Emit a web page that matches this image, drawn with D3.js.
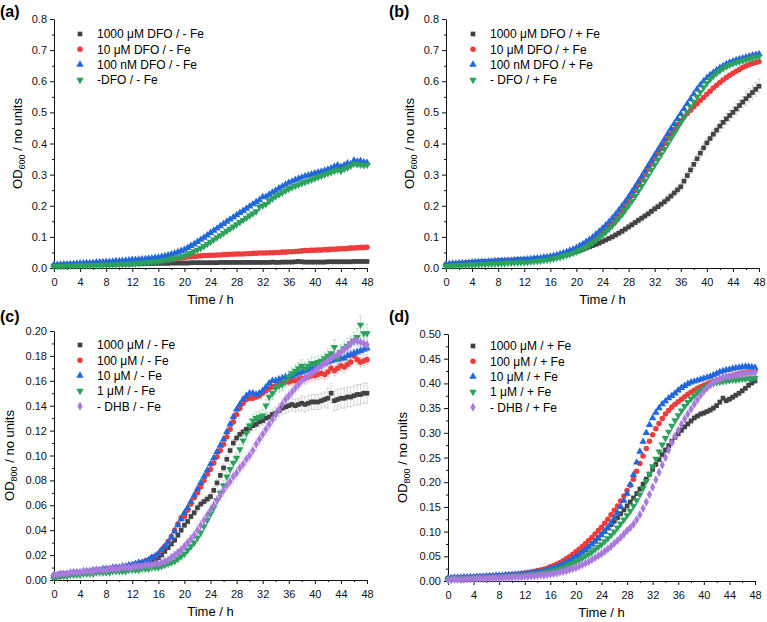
<!DOCTYPE html>
<html><head><meta charset="utf-8">
<script src="https://cdn.jsdelivr.net/npm/d3@7"></script>
<style>body{margin:0;background:#fff}svg{display:block}text{font-family:"Liberation Sans",Arial,sans-serif}</style>
</head><body><svg id="c" width="767" height="622"></svg>
<script>
// sampling times (h)
const times = d3.range(0, 97).map(i => i * 0.5);
const xTicks = [0,4,8,12,16,20,24,28,32,36,40,44,48];

// ---------- Panel (a): DFO / - Fe ----------
const a_1000 = [.008,.008,.009,.009,.009,.010,.010,.010, .010,.011,.011,.011,.011,.012,.012,.012, .012,.012,.012,.013,.013,.013,.013,.013, .013,.014,.014,.014,.014,.014,.014,.015, .015,.015,.015,.015,.016,.016,.016,.016, .016,.016,.017,.017,.017,.017,.017,.017, .017,.017,.017,.018,.018,.018,.018,.018, .018,.018,.018,.018,.018,.018,.018,.018, .018,.018,.018,.019,.018,.018,.019,.019, .019,.019,.020,.021,.020,.019,.019,.019, .019,.019,.019,.019,.020,.020,.020,.020, .020,.020,.020,.020,.021,.021,.021,.021, .021];
const a_10 = [.008,.008,.009,.010,.010,.011,.011,.012, .012,.013,.013,.014,.014,.015,.015,.016, .016,.017,.017,.018,.018,.019,.019,.020, .020,.021,.021,.022,.022,.023,.023,.024, .024,.025,.026,.027,.028,.029,.031,.032, .034,.035,.036,.037,.038,.039,.040,.040, .041,.041,.042,.042,.043,.043,.044,.044, .045,.045,.045,.046,.046,.047,.047,.048, .048,.048,.049,.049,.050,.050,.051,.051, .052,.052,.053,.054,.055,.056,.056,.057, .057,.058,.058,.059,.059,.060,.060,.061, .062,.062,.063,.064,.064,.065,.066,.066, .067];
const a_100n = [.010,.010,.011,.012,.012,.013,.013,.014, .015,.015,.016,.016,.017,.018,.018,.019, .020,.020,.021,.022,.022,.023,.024,.025, .026,.026,.027,.028,.029,.030,.031,.033, .034,.036,.038,.041,.044,.047,.051,.055, .059,.065,.071,.077,.084,.091,.098,.105, .113,.120,.127,.135,.142,.149,.156,.163, .170,.177,.184,.191,.198,.205,.212,.218, .228,.229,.236,.243,.249,.256,.262,.268, .274,.278,.283,.287,.291,.295,.298,.301, .304,.307,.310,.313,.316,.320,.326,.330, .325,.330,.336,.334,.345,.342,.344,.340, .338];
const a_none = [.005,.006,.006,.006,.007,.007,.007,.007, .008,.008,.008,.008,.009,.009,.009,.010, .010,.010,.011,.011,.012,.012,.013,.013, .014,.014,.015,.016,.017,.018,.019,.020, .021,.023,.025,.027,.029,.031,.034,.037, .040,.044,.048,.053,.058,.064,.070,.077, .084,.091,.098,.105,.112,.119,.126,.133, .140,.147,.154,.161,.168,.175,.182,.196, .200,.205,.215,.223,.230,.236,.242,.248, .254,.259,.264,.268,.272,.276,.280,.284, .288,.292,.296,.300,.304,.308,.312,.315, .312,.318,.322,.328,.335,.333,.332,.330, .331];

// ---------- Panel (b): DFO / + Fe ----------
const b_1000 = [.010,.011,.012,.013,.014,.015,.016,.017, .018,.019,.019,.020,.021,.021,.022,.022, .023,.024,.024,.025,.025,.026,.026,.027, .027,.028,.028,.029,.030,.031,.032,.033, .034,.036,.038,.040,.042,.044,.047,.050, .053,.056,.060,.064,.068,.072,.076,.080, .085,.090,.095,.100,.106,.112,.118,.125, .132,.139,.146,.153,.160,.167,.174,.182, .190,.197,.205,.213,.222,.231,.241,.251, .261,.279,.297,.315,.333,.351,.369,.386, .402,.416,.430,.443,.456,.468,.479,.490, .500,.511,.522,.533,.544,.554,.564,.574, .584];
const b_10 = [.010,.011,.012,.013,.013,.014,.015,.016, .016,.017,.018,.018,.019,.020,.020,.021, .021,.022,.022,.023,.023,.024,.025,.025, .026,.026,.027,.028,.029,.030,.031,.033, .034,.036,.038,.041,.044,.047,.051,.055, .060,.065,.071,.077,.084,.091,.099,.107, .115,.124,.134,.145,.157,.170,.184,.199, .215,.232,.249,.266,.283,.300,.317,.334, .351,.368,.384,.400,.416,.431,.446,.460, .473,.485,.496,.507,.518,.528,.538,.548, .558,.568,.578,.587,.596,.604,.612,.619, .626,.632,.638,.644,.649,.653,.657,.660, .663];
const b_100n = [.012,.013,.014,.014,.015,.016,.016,.017, .018,.018,.019,.020,.020,.021,.021,.022, .022,.023,.023,.024,.024,.025,.026,.026, .027,.028,.029,.030,.031,.032,.034,.035, .037,.039,.042,.045,.048,.052,.056,.060, .065,.071,.077,.084,.091,.099,.108,.117, .127,.137,.148,.160,.172,.185,.199,.213, .228,.244,.260,.277,.294,.311,.328,.345, .362,.379,.396,.413,.430,.447,.463,.479, .495,.511,.527,.543,.559,.574,.588,.600, .611,.620,.628,.636,.643,.649,.655,.660, .664,.668,.671,.674,.677,.680,.683,.685, .687];
const b_none = [.006,.007,.007,.008,.008,.009,.009,.010, .010,.011,.011,.012,.012,.013,.013,.014, .014,.015,.015,.016,.016,.017,.017,.018, .018,.019,.020,.021,.022,.023,.025,.026, .028,.030,.032,.035,.038,.041,.044,.048, .052,.057,.062,.068,.074,.081,.089,.097, .106,.115,.125,.136,.147,.159,.172,.186, .200,.215,.231,.247,.263,.280,.297,.314, .331,.348,.365,.382,.399,.416,.433,.450, .467,.484,.501,.518,.534,.550,.565,.580, .594,.606,.617,.626,.634,.641,.647,.652, .656,.660,.663,.666,.669,.672,.675,.678, .680];

// ---------- Panel (c): DHB / - Fe ----------
const c_1000 = [.004,.004,.005,.005,.005,.005,.006,.006, .006,.006,.007,.007,.007,.007,.008,.008, .008,.008,.009,.009,.009,.009,.010,.010, .011,.011,.012,.012,.013,.014,.015,.016, .018,.020,.023,.026,.029,.032,.036,.040, .044,.047,.051,.054,.058,.061,.063,.065, .067,.072,.078,.084,.090,.097,.104,.110, .114,.117,.119,.121,.122,.124,.125,.127, .128,.130,.131,.133,.134,.136,.138,.139, .140,.141,.140,.141,.142,.141,.142,.143, .143,.143,.144,.145,.146,.150,.144,.145, .146,.146,.147,.147,.148,.149,.149,.150, .150];
const c_100 = [.002,.003,.003,.004,.004,.005,.005,.006, .006,.006,.007,.007,.007,.008,.008,.008, .009,.009,.009,.010,.010,.010,.011,.011, .012,.013,.013,.014,.015,.016,.018,.019, .021,.024,.027,.031,.035,.040,.045,.050, .051,.056,.061,.066,.070,.075,.080,.085, .089,.094,.099,.104,.109,.115,.121,.127, .133,.138,.142,.145,.146,.146,.147,.148, .150,.152,.154,.155,.156,.157,.158,.159, .159,.160,.160,.161,.162,.162,.163,.164, .164,.165,.166,.165,.167,.170,.168,.170, .172,.171,.173,.175,.180,.177,.175,.176, .177];
const c_10 = [.003,.003,.004,.004,.005,.005,.006,.006, .006,.007,.007,.007,.008,.008,.008,.009, .009,.009,.010,.010,.010,.011,.011,.012, .012,.013,.014,.014,.015,.016,.018,.019, .021,.024,.027,.030,.034,.039,.044,.049, .054,.058,.063,.068,.073,.078,.083,.088, .093,.098,.103,.108,.113,.119,.125,.131, .137,.141,.145,.148,.150,.150,.149,.150, .152,.155,.158,.160,.160,.161,.162,.163, .163,.164,.165,.166,.167,.168,.169,.170, .171,.172,.173,.174,.175,.176,.177,.177, .178,.178,.180,.181,.182,.183,.184,.185, .186];
const c_1 = [.002,.002,.003,.003,.003,.004,.004,.004, .004,.005,.005,.005,.005,.006,.006,.006, .006,.006,.007,.007,.007,.007,.007,.008, .008,.008,.008,.009,.009,.009,.010,.010, .010,.011,.012,.013,.014,.015,.017,.019, .021,.024,.027,.030,.034,.038,.043,.048, .053,.058,.064,.070,.076,.083,.089,.094, .098,.105,.112,.118,.124,.128,.130,.131, .132,.140,.147,.150,.154,.156,.157,.160, .163,.166,.168,.170,.172,.170,.172,.174, .174,.175,.176,.178,.180,.182,.187,.178, .183,.186,.188,.190,.192,.195,.205,.198, .198];
const c_none = [.004,.004,.005,.005,.005,.006,.006,.006, .006,.007,.007,.007,.007,.008,.008,.008, .008,.009,.009,.009,.009,.010,.010,.010, .010,.011,.011,.011,.012,.012,.012,.013, .013,.014,.015,.016,.018,.020,.022,.024, .027,.030,.033,.036,.040,.044,.048,.052, .056,.060,.064,.068,.072,.076,.079,.083, .086,.090,.093,.097,.100,.104,.109,.113, .117,.121,.125,.129,.133,.137,.141,.145, .148,.151,.154,.157,.160,.162,.164,.166, .168,.170,.172,.174,.176,.178,.180,.181, .183,.185,.187,.190,.192,.192,.191,.190, .189];

// ---------- Panel (d): DHB / + Fe ----------
const d_1000 = [.005,.005,.006,.006,.006,.007,.007,.007, .007,.008,.008,.008,.009,.009,.009,.010, .010,.010,.011,.011,.012,.012,.013,.013, .014,.015,.016,.017,.018,.019,.021,.023, .025,.027,.030,.033,.036,.039,.043,.047, .051,.055,.060,.065,.070,.076,.082,.088, .094,.100,.107,.114,.121,.128,.136,.144, .152,.160,.168,.177,.186,.196,.206,.216, .226,.236,.246,.256,.265,.274,.283,.291, .298,.305,.312,.318,.324,.330,.334,.338, .340,.343,.346,.350,.355,.362,.370,.365, .368,.372,.376,.380,.385,.390,.396,.401, .405];
const d_100 = [.005,.006,.006,.006,.007,.007,.007,.008, .008,.008,.009,.009,.009,.010,.010,.010, .011,.011,.012,.012,.013,.013,.014,.015, .016,.017,.018,.019,.021,.022,.024,.026, .029,.031,.034,.037,.041,.045,.049,.054, .059,.064,.070,.076,.082,.088,.095,.102, .109,.117,.125,.134,.143,.152,.162,.172, .183,.194,.206,.222,.238,.253,.268,.283, .296,.308,.319,.329,.338,.345,.352,.358, .363,.368,.373,.378,.382,.386,.390,.393, .396,.399,.402,.404,.406,.408,.410,.412, .414,.416,.418,.420,.421,.422,.424,.425, .426];
const d_10 = [.006,.006,.007,.007,.007,.008,.008,.008, .008,.009,.009,.009,.010,.010,.010,.011, .011,.011,.012,.012,.012,.013,.013,.014, .014,.015,.016,.017,.018,.019,.020,.022, .024,.026,.028,.031,.034,.037,.041,.045, .049,.053,.058,.063,.068,.074,.080,.086, .093,.100,.108,.117,.127,.138,.150,.163, .177,.195,.215,.240,.262,.282,.300,.316, .330,.341,.350,.358,.364,.370,.375,.380, .386,.391,.395,.399,.402,.404,.406,.408, .410,.412,.414,.417,.420,.423,.425,.427, .428,.430,.431,.432,.433,.434,.434,.433, .432];
const d_1 = [.004,.004,.005,.005,.005,.006,.006,.006, .006,.007,.007,.007,.007,.008,.008,.008, .008,.009,.009,.009,.010,.010,.011,.011, .012,.012,.013,.014,.015,.016,.017,.018, .020,.021,.023,.025,.027,.030,.033,.036, .039,.042,.046,.050,.054,.059,.064,.069, .074,.080,.086,.093,.100,.108,.116,.124, .133,.142,.152,.163,.175,.188,.202,.217, .232,.247,.262,.276,.289,.302,.314,.325, .335,.345,.354,.362,.369,.375,.381,.386, .390,.394,.397,.400,.402,.403,.404,.405, .406,.407,.407,.408,.409,.409,.410,.410, .411];
const d_none = [.002,.002,.003,.003,.003,.003,.004,.004, .004,.004,.005,.005,.005,.005,.006,.006, .006,.006,.007,.007,.007,.008,.008,.008, .009,.009,.010,.010,.011,.012,.012,.013, .014,.015,.016,.018,.019,.021,.023,.025, .027,.030,.033,.036,.039,.043,.047,.051, .055,.060,.065,.070,.076,.082,.088,.095, .102,.108,.115,.124,.134,.147,.160,.175, .190,.205,.220,.235,.250,.265,.280,.293, .305,.317,.328,.338,.348,.358,.367,.376, .384,.391,.397,.402,.406,.409,.412,.414, .414,.416,.417,.418,.419,.420,.421,.421, .422];

// error bar half-widths, read at 0,4,...,48 h
const a_err = [[.001,.001,.001,.001,.001,.002,.002,.002,.002,.002,.002,.002,.002],[.001,.001,.001,.002,.002,.003,.003,.004,.005,.006,.007,.008,.008],[.001,.001,.001,.002,.002,.003,.004,.004,.004,.004,.004,.005,.006],[.001,.001,.001,.002,.002,.004,.005,.006,.006,.005,.005,.006,.006]];
const b_err = [[.002,.002,.002,.002,.003,.005,.007,.009,.010,.012,.014,.018,.022],[.002,.002,.002,.002,.003,.004,.005,.006,.006,.006,.006,.006,.006],[.002,.002,.002,.002,.003,.004,.005,.006,.006,.006,.006,.006,.006],[.002,.002,.002,.002,.003,.004,.005,.006,.006,.006,.006,.006,.006]];
const c_err = [[.0005,.0005,.0005,.001,.001,.002,.003,.003,.004,.005,.006,.008,.008],[.0005,.0005,.0005,.001,.001,.002,.002,.002,.002,.003,.004,.004,.004],[.0005,.0005,.0005,.001,.001,.002,.002,.002,.002,.003,.003,.003,.003],[.0005,.0005,.0005,.001,.001,.002,.003,.004,.005,.005,.005,.006,.007],[.0005,.0005,.0005,.001,.001,.003,.004,.005,.005,.005,.005,.004,.004]];
const d_err = [[.001,.001,.001,.001,.002,.003,.003,.004,.005,.005,.005,.005,.005],[.001,.001,.001,.001,.002,.002,.003,.003,.003,.003,.003,.003,.003],[.001,.001,.001,.001,.002,.002,.003,.003,.003,.003,.003,.003,.003],[.001,.001,.001,.001,.002,.002,.003,.003,.003,.003,.003,.003,.003],[.001,.001,.001,.001,.002,.003,.004,.005,.006,.006,.005,.004,.004]];

const a_labels = ["1000 \u03bcM DFO / - Fe","10 \u03bcM DFO / - Fe","100 nM DFO / - Fe","-DFO / - Fe"];
const b_labels = ["1000 \u03bcM DFO / + Fe","10 \u03bcM DFO / + Fe","100 nM DFO / + Fe","- DFO / + Fe"];
const c_labels = ["1000 \u03bcM / - Fe","100 \u03bcM / - Fe","10 \u03bcM / - Fe","1 \u03bcM / - Fe","- DHB / - Fe"];
const d_labels = ["1000 \u03bcM / + Fe","100 \u03bcM / + Fe","10 \u03bcM / + Fe","1 \u03bcM / + Fe","- DHB / + Fe"];

const a_yTicks = [0,.1,.2,.3,.4,.5,.6,.7,.8];
const c_yTicks = [0,.02,.04,.06,.08,.10,.12,.14,.16,.18,.20];
const d_yTicks = [0,.05,.10,.15,.20,.25,.30,.35,.40,.45,.50];

const colors = ["#424242","#ee3b3b","#2168dc","#2ba25c","#a97ade"];
const errColors = ["#b8b8b8","#f5a0a0","#9dbcef","#96d3ad","#d3bdf0"];
const shapes = [
  {type:d3.symbolSquare,size:22,rot:0},
  {type:d3.symbolCircle,size:24,rot:0},
  {type:d3.symbolTriangle,size:24,rot:0},
  {type:d3.symbolTriangle,size:24,rot:180},
  {type:d3.symbolDiamond,size:24,rot:0}
];

const svg = d3.select("#c");

function panel(o){
  const g = svg.append("g");
  const x = d3.scaleLinear().domain([0,48]).range([o.left,o.right]);
  const y = d3.scaleLinear().domain([0,o.ymax]).range([o.bottom,o.top]);
  // minor ticks
  const xMinor = xTicks.slice(0,-1).map(v=>v+2);
  g.append("g").attr("transform",`translate(0,${o.bottom})`)
    .call(d3.axisBottom(x).tickValues(xMinor).tickSize(2).tickSizeOuter(0).tickFormat(""))
    .call(s=>s.select(".domain").remove());
  const yMinor = o.yTicks.slice(0,-1).map((v,i)=>(v+o.yTicks[i+1])/2);
  g.append("g").attr("transform",`translate(${o.left},0)`)
    .call(d3.axisLeft(y).tickValues(yMinor).tickSize(2).tickSizeOuter(0).tickFormat(""))
    .call(s=>s.select(".domain").remove());
  const xa = g.append("g").attr("transform",`translate(0,${o.bottom})`)
    .call(d3.axisBottom(x).tickValues(xTicks).tickSize(4).tickSizeOuter(0).tickFormat(d3.format("d")));
  const ya = g.append("g").attr("transform",`translate(${o.left},0)`)
    .call(d3.axisLeft(y).tickValues(o.yTicks).tickSize(4).tickSizeOuter(0).tickFormat(d3.format(o.fmt)));
  [xa,ya].forEach(a=>{a.selectAll("text").attr("font-size",11).attr("fill","#111").style("font-family","Liberation Sans, Arial");
    a.selectAll("line").attr("stroke","#111"); a.select(".domain").attr("stroke","#111");});
  xa.selectAll("text").attr("y",10);
  g.selectAll("g.tick line").attr("stroke","#111");
  // titles
  g.append("text").attr("x",(o.left+o.right)/2).attr("y",o.bottom+36).attr("text-anchor","middle")
    .attr("font-size",13).text("Time / h");
  const yl = g.append("text").attr("transform",`translate(${o.ylx},${(o.top+o.bottom)/2}) rotate(-90)`)
    .attr("text-anchor","middle").attr("font-size",13);
  yl.append("tspan").text("OD");
  yl.append("tspan").attr("font-size",9).attr("dy",3).text(o.sub);
  yl.append("tspan").attr("dy",-3).text(" / no units");
  g.append("text").attr("x",o.lx).attr("y",o.ly).attr("font-size",16).attr("font-weight","bold").text(o.letter);
  // error bars
  o.series.forEach((s,si)=>{
    const eg = g.append("g").attr("stroke",errColors[si]).attr("stroke-width",0.6).attr("fill","none");
    s.forEach((v,i)=>{
      const e = o.err[si][Math.round(times[i]/4)];
      const cx = x(times[i]);
      const y1 = y(v+e), y2 = y(v-e);
      if (Math.abs(y2-y1) < 2.5) return;
      eg.append("path").attr("d",`M${cx},${y1}V${y2}M${cx-1.5},${y1}H${cx+1.5}M${cx-1.5},${y2}H${cx+1.5}`);
    });
  });
  // markers
  o.series.forEach((s,si)=>{
    const sh = shapes[si];
    const sym = d3.symbol().type(sh.type).size(sh.size);
    g.append("g").attr("fill",colors[si]).selectAll("path").data(s).join("path")
      .attr("d",sym).attr("transform",(v,i)=>`translate(${x(times[i])},${y(v)}) rotate(${sh.rot})`);
  });
  // legend
  o.labels.forEach((lab,si)=>{
    const sh = shapes[si];
    const yy = o.legY + si*15.3;
    g.append("path").attr("d",d3.symbol().type(sh.type).size(sh.size)())
      .attr("transform",`translate(${o.legX},${yy}) rotate(${sh.rot})`).attr("fill",colors[si]);
    g.append("text").attr("x",o.legX+17).attr("y",yy).attr("dy","0.36em").attr("font-size",12).text(lab);
  });
}

panel({left:54,right:367,top:19,bottom:268,ymax:0.8,yTicks:a_yTicks,fmt:".1f",sub:"600",ylx:22,letter:"(a)",lx:0,ly:17,
  series:[a_1000,a_10,a_100n,a_none],err:a_err,labels:a_labels,legX:80,legY:34});
panel({left:446,right:759,top:19,bottom:268,ymax:0.8,yTicks:a_yTicks,fmt:".1f",sub:"600",ylx:414,letter:"(b)",lx:389,ly:17,
  series:[b_1000,b_10,b_100n,b_none],err:b_err,labels:b_labels,legX:473,legY:34});
panel({left:54,right:367,top:331,bottom:580,ymax:0.2,yTicks:c_yTicks,fmt:".2f",sub:"800",ylx:14,letter:"(c)",lx:0,ly:322,
  series:[c_1000,c_100,c_10,c_1,c_none],err:c_err,labels:c_labels,legX:80,legY:345});
panel({left:448,right:755,top:334,bottom:581,ymax:0.5,yTicks:d_yTicks,fmt:".2f",sub:"800",ylx:407,letter:"(d)",lx:389,ly:322,
  series:[d_1000,d_100,d_10,d_1,d_none],err:d_err,labels:d_labels,legX:473,legY:346});
</script></body></html>
